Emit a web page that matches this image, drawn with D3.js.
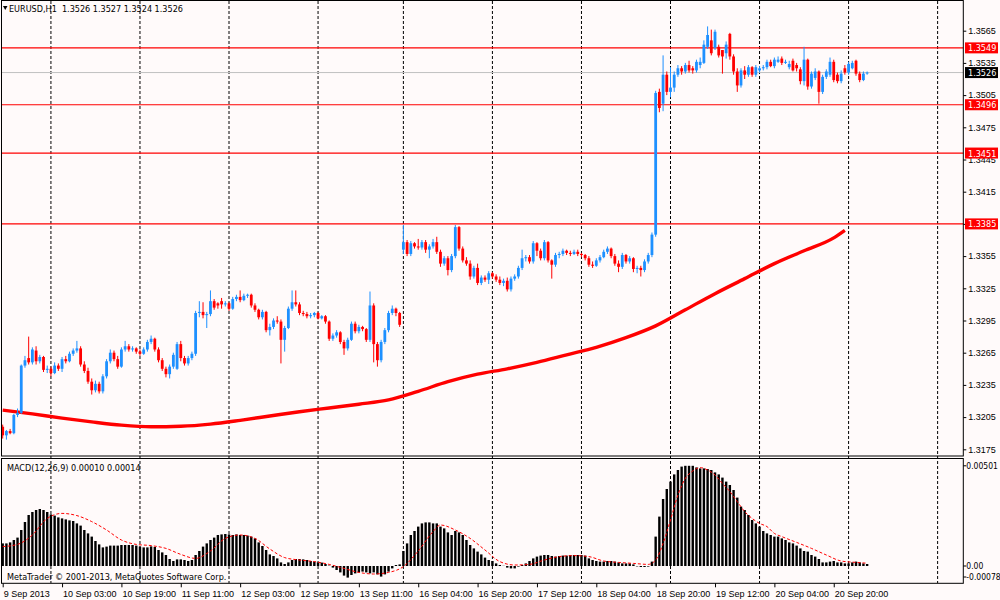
<!DOCTYPE html>
<html>
<head>
<meta charset="utf-8">
<title>EURUSD,H1</title>
<script src="https://cdnjs.cloudflare.com/ajax/libs/d3/7.8.5/d3.min.js"></script>
<style>
  body { margin:0; background:#fffafa; }
  svg { display:block; font-family:"DejaVu Sans Condensed","Liberation Sans",sans-serif; }
  .axis text { font-size:9px; fill:#000; }
  .axis line { stroke:#000; }
</style>
</head>
<body>
<script>
// prices are pips above 1.3000, one entry per H1 bar
var base = 1.3
var opens = [
 196,188,192,190,207,209,253,260,256,267, 257,261,249,250,246,253,250,259,257,264,
 267,269,254,248,238,230,236,229,243,257, 265,259,252,268,271,268,269,266,264,268,
 275,278,268,258,250,245,252,250,273,260, 255,260,264,302,303,300,301,313,311,313,
 310,311,306,315,317,314,318,319,309,305, 298,303,286,289,295,294,277,288,306,312,
 310,302,301,299,300,302,297,299,294,278, 281,284,275,269,277,292,285,289,287,277,
 309,273,258,275,286,302,306,302,
 361,368,357,367,364,363,368,361,364,368, 359,348,353,342,355,382,362,351,348,336,
 344,330,335,333,339,336,333,330,332,324, 334,336,344,353,354,350,367,360,353,368,
 351,347,356,357,360,358,357,359,357,356, 353,347,346,351,354,359,362,355,348,345,
 356,350,353,343,344,342,350,356,375,508, 497,524,508,512,524,530,527,533,530,528,
 533,535,550,556,549,550,547,544,562,541, 527,514,528,524,531,524,528,530,531,536,
 532,536,539,535,531,537,533,529,518,538, 513,521,527,508,522,524,536,524,518,530,
 526,530,537,525,519,526]
var highs = [
 198,193,194,208,213,254,262,280,270,271, 263,262,253,252,256,255,261,262,266,269,
 276,271,257,251,241,239,238,245,259,268, 267,262,270,276,273,271,270,268,270,277,
 281,279,270,260,252,254,265,275,276,262, 262,266,304,313,312,303,323,315,312,316,
 313,312,317,319,323,320,320,320,311,306, 305,304,292,297,299,296,290,308,323,323,
 312,304,303,302,303,303,300,300,295,283, 286,285,277,279,294,294,291,290,288,322,
 311,275,277,288,304,309,307,303,
 384,370,369,368,371,370,370,366,371,373, 361,355,355,357,384,383,364,354,351,346,
 348,337,337,341,340,338,336,334,335,336, 338,346,361,356,356,369,368,362,370,369,
 352,358,359,362,361,360,361,361,358,357, 355,350,353,356,361,364,363,357,351,358,
 357,355,354,346,346,352,358,377,509,511, 542,527,531,527,533,532,535,537,532,538,
 540,556,569,566,566,552,547,555,563,543, 530,530,532,533,532,533,532,533,538,538,
 540,541,541,538,537,539,535,531,550,539, 527,530,528,524,529,540,538,526,528,533,
 536,537,538,527,527,527]
var lows = [
 185,184,189,189,205,208,251,254,254,254, 255,247,246,243,245,248,247,255,256,262,
 265,252,246,236,226,228,227,227,241,255, 257,250,251,266,266,266,264,262,263,266,
 273,266,256,248,242,241,250,249,257,253, 253,258,262,298,297,288,299,305,306,306,
 308,304,305,313,312,313,316,307,303,296, 296,284,281,287,292,255,266,287,304,308,
 300,299,297,297,298,296,296,292,276,276, 279,273,263,267,276,283,283,285,275,275,
 256,252,256,273,284,300,299,289,
 357,355,355,362,361,361,358,353,362,357, 345,346,337,340,353,360,349,346,333,334,
 328,328,331,329,334,331,328,327,322,322, 332,334,342,350,348,348,355,351,351,349,
 334,345,353,355,356,355,356,355,354,351, 345,344,345,349,353,357,353,346,340,343,
 348,348,340,339,336,340,348,354,373,489, 490,505,503,508,522,524,525,526,525,526,
 530,534,548,542,547,540,525,539,538,524, 508,512,520,522,522,522,526,528,529,531,
 530,535,533,534,529,527,527,515,514,510, 511,519,497,506,520,522,517,516,516,524,
 524,529,523,517,518,524]
var closes = [
 188,192,190,207,209,253,258,256,268,257, 261,249,250,246,253,250,259,257,264,267,
 269,254,248,238,230,236,229,243,257,265, 259,252,268,271,268,269,266,264,268,275,
 278,268,258,250,245,252,263,273,260,255, 260,264,302,303,300,301,313,307,309,310,
 311,306,315,317,314,318,319,309,305,298, 303,286,289,295,294,277,288,306,312,310,
 302,301,299,300,302,297,299,294,278,281, 284,275,269,277,292,285,289,287,277,309,
 273,258,275,286,302,306,302,291,
 368,357,367,364,363,368,361,364,368,359, 348,353,342,355,382,362,351,348,336,344,
 330,335,333,339,336,333,330,332,324,334, 336,344,353,354,350,367,360,353,368,351,
 347,356,357,360,358,357,359,357,356,353, 347,346,351,354,359,362,355,348,345,356,
 350,353,343,344,342,350,356,375,507,493, 524,508,512,524,530,527,533,528,528,536,
 536,552,561,544,564,542,541,552,541,527, 514,528,524,531,524,531,530,531,536,532,
 538,538,535,536,534,528,530,518,538,513, 525,527,508,522,527,536,519,518,525,526,
 534,535,525,519,525,526]

// moving average (pips above 1.3000) read at these bars
var maBars = [0,8,16,24,32,40,48,56,64,72,80,88,96,104,112,120,128,136,144,152,160,168,176,184,192,200,208,216,224,227]
var maVals = [211.5,208,204,200.5,197.5,196,196.5,198.5,202,206,210,213.5,217,221,229,238,245,250,256,263,270,279,290,305,320,334,348,360,372,379]

// MACD main histogram, units of 0.0001
var macdMain = [
 11.3,11.3,11.8,13,14.2,18,22,25.5,27,28, 28.5,28,27,25.8,25.2,24.3,23.8,23.3,22.8,22.5,
 21.3,20.2,18,16.3,14.7,12.5,10.8,9.3,9.7,10.2, 10.2,10.2,10.5,10.5,10.5,10.5,10.2,9.7,9.3,9.3,
 9.8,9.5,8,6.8,5.5,3.5,2.5,3.3,3.3,3, 2.5,3,5.5,7.5,9.7,11.3,13,14.2,15.5,15.8,
 16,15.8,15.5,15.8,15.5,15.5,15.2,14.7,13.8,11.8, 10,8,5.8,5,3.8,1.8,1,1.8,3,3.5,
 3.5,3.3,3,2.5,2.2,1.8,1.7,1,0.2,-0.8, -2,-3.2,-4.8,-5.8,-4.5,-3.7,-3.2,-2.8,-3.2,-3.7,
 -3.2,-4.2,-5.3,-4.2,-2.8,-1.2,0.5,0.8,7.5,11.3, 15.5,17.5,19.7,21.3,21.8,21.8,21.3,21.3,19.7,18.8,
 16.8,15.5,17.5,16.8,15.5,13,10.5,8.8,7.2,5.8, 4.2,3,2.5,1.3,0.5,0.1,-0.8,-1.2,-1.2,-0.3,
 0.5,1.3,2.5,3.8,4.7,5.2,5.5,5.5,5,4.7, 5,5.2,5.2,5.5,5.5,5.5,5.5,5.2,3.8,3,
 2.5,2.2,2.2,2.5,2.5,2.2,1.8,1.3,1.3,1.3, 0.8,-0.2,-0.5,-0.5,-0.3,2.2,14.7,24.7,33.5,38.5,
 42.2,45.8,48,49.7,50.1,50.1,50.1,49.3,48.8,48.8, 48.5,48,46.8,45.8,44.2,42.2,40.5,38,34.2,29.7,
 28,25.5,23,21.3,19.7,17.5,16.3,15.5,14.7,14.7, 13.8,13,11.8,11.3,10.2,8.8,7.5,7.2,5.5,4.7,
 3.5,1.8,1.8,2.2,2.5,1.8,1.8,1.3,1.3,1.8, 2.2,1.8,1.3,1.0]
// MACD signal line, units of 0.0001, read at these bars
var sigBars = [0,4,8,12,16,20,24,28,32,36,40,44,48,52,56,60,64,68,72,76,80,84,88,92,96,100,104,108,112,116,
 118,122,126,130,134,138,142,146,150,154,158,162,166,170,174,176,178,180,182,184,186,188,190,192,194,196,198,200,202,204,
 206,208,210,214,218,222,226,230,233]
var sigVals = [9.7,10.8,15.5,23.8,26.3,25.2,22.2,18,13,10.8,10.2,8.8,5.8,3.8,7.5,13.8,15.5,13.8,8.5,4.2,
 3,2.2,0.8,-1.2,-3.2,-4,-3.2,-0.3,7.5,17.2,20.5,18,13.8,8,2.2,0.5,0.8,3,4.7,5.2,
 4.7,2.5,1.8,1.3,0.8,3,11.3,23,35.5,43.8,47.5,49.2,48,45.5,41.3,37.2,32.2,27.2,23.8,21.3,
 19.7,16.3,14.7,11.8,8.8,5.5,2.5,1.8,1.4]

var priceTicks = [1.3565,1.3535,1.3505,1.3475,1.3445,1.3415,1.3385,1.3355,1.3325,1.3295,1.3265,1.3235,1.3205,1.3175]
var levels = [1.3549,1.3496,1.3451,1.3385]
var timeLabels = ["9 Sep 2013","10 Sep 03:00","10 Sep 19:00","11 Sep 11:00","12 Sep 03:00","12 Sep 19:00","13 Sep 11:00",
 "16 Sep 04:00","16 Sep 20:00","17 Sep 12:00","18 Sep 04:00","18 Sep 20:00","19 Sep 12:00","20 Sep 04:00","20 Sep 20:00"]
var timeLabelBars = [0,16,32,48,64,80,96,112,128,144,160,176,192,208,224]
var dayBars = [13,37,61,85,108,132,156,180,204,228,252]
var macdScaleLabels = ["0.00501","0.00","-0.00078"]
var macdScaleVals = [50.1,0,-5.5]

var width = 1000, height = 600
var right = 963.3
var svg = d3.select("body").append("svg").attr("width", width).attr("height", height)
svg.append("rect").attr("width", width).attr("height", height).attr("fill", "#fffafa")

var x = d3.scaleLinear().domain([0, 252]).range([2.7, 2.7 + 252 * 3.71])
var y = d3.scaleLinear().domain([1.3175, 1.3565]).range([449.3, 30.7])
var ym = d3.scaleLinear().domain([0, 50.1]).range([566, 465.8])
function p(v) { return base + v / 10000 }

// day separators
svg.append("g").selectAll("line").data(dayBars).enter().append("line")
    .attr("x1", function(d) { return x(d) }).attr("x2", function(d) { return x(d) })
    .attr("y1", 1).attr("y2", 583)
    .attr("stroke", "#000").attr("stroke-dasharray", "3,2")

// horizontal levels
svg.append("g").selectAll("line").data(levels).enter().append("line")
    .attr("x1", 2).attr("x2", right)
    .attr("y1", function(d) { return y(d) }).attr("y2", function(d) { return y(d) })
    .attr("stroke", "#ff0000").attr("stroke-width", 1.2)
var last = closes.length - 1
svg.append("line").attr("x1", 2).attr("x2", right)
    .attr("y1", y(p(closes[last]))).attr("y2", y(p(closes[last])))
    .attr("stroke", "#c0c0c0")

// moving average
var maLine = d3.line().curve(d3.curveMonotoneX)
    .x(function(d, i) { return x(maBars[i]) })
    .y(function(d) { return y(p(d)) })
svg.append("path").attr("d", maLine(maVals))
    .attr("fill", "none").attr("stroke", "#ff0000").attr("stroke-width", 3.4)

// candles
var bars = d3.range(closes.length)
var cg = svg.append("g")
cg.selectAll("line").data(bars).enter().append("line")
    .attr("x1", function(i) { return x(i) }).attr("x2", function(i) { return x(i) })
    .attr("y1", function(i) { return y(p(highs[i])) })
    .attr("y2", function(i) { return y(p(lows[i])) })
    .attr("stroke", function(i) { return closes[i] >= opens[i] ? "#1e90ff" : "#ff0000" })
cg.selectAll("rect").data(bars).enter().append("rect")
    .attr("x", function(i) { return x(i) - 1.4 }).attr("width", 2.8)
    .attr("y", function(i) { return y(p(Math.max(opens[i], closes[i]))) })
    .attr("height", function(i) { return Math.max(1, Math.abs(y(p(opens[i])) - y(p(closes[i])))) })
    .attr("fill", function(i) { return closes[i] >= opens[i] ? "#1e90ff" : "#ff0000" })

// MACD histogram
svg.append("g").selectAll("rect").data(macdMain).enter().append("rect")
    .attr("x", function(d, i) { return x(i) - 1.2 }).attr("width", 2.4)
    .attr("y", function(d) { return Math.min(ym(d), ym(0)) })
    .attr("height", function(d) { return Math.abs(ym(d) - ym(0)) })
    .attr("fill", "#000")
var sigLine = d3.line().curve(d3.curveMonotoneX)
    .x(function(d, i) { return x(sigBars[i]) })
    .y(function(d) { return ym(d) })
svg.append("path").attr("d", sigLine(sigVals))
    .attr("fill", "none").attr("stroke", "#ff0000").attr("stroke-dasharray", "3,2")

// frames
svg.append("rect").attr("x", 1.5).attr("y", 0.5).attr("width", right - 1.5).attr("height", 455.5)
    .attr("fill", "none").attr("stroke", "#000")
svg.append("rect").attr("x", 1.5).attr("y", 458.5).attr("width", right - 1.5).attr("height", 124.8)
    .attr("fill", "none").attr("stroke", "#000")

// price axis
var ya = svg.append("g").attr("class", "axis").attr("transform", "translate(" + right + ",0)")
    .call(d3.axisRight(y).tickValues(priceTicks).tickFormat(d3.format(".4f")).tickSize(3).tickPadding(2))
ya.select(".domain").remove()

// level boxes
var boxes = levels.map(function(d) { return { v: d, bg: "#ff0000" } })
boxes.push({ v: p(closes[last]), bg: "#000" })
var bx = svg.append("g").selectAll("g").data(boxes).enter().append("g")
    .attr("transform", function(d) { return "translate(965," + y(d.v) + ")" })
bx.append("rect").attr("x", 0).attr("y", -5.5).attr("width", 33).attr("height", 11)
    .attr("fill", function(d) { return d.bg })
bx.append("text").attr("x", 3).attr("y", 0.5).attr("dominant-baseline", "central")
    .attr("fill", "#fff").style("font-size", "9px")
    .text(function(d) { return d.v.toFixed(4) })

// MACD scale labels
var ml = svg.append("g").attr("class", "axis")
ml.selectAll("line").data(macdScaleVals).enter().append("line")
    .attr("x1", right).attr("x2", right + 3)
    .attr("y1", function(d) { return Math.min(ym(d), 577) }).attr("y2", function(d) { return Math.min(ym(d), 577) })
ml.selectAll("text").data(macdScaleVals).enter().append("text")
    .attr("x", right + 3).attr("y", function(d) { return Math.min(ym(d), 577) })
    .attr("dominant-baseline", "central")
    .style("font-size", "8.5px")
    .text(function(d, i) { return macdScaleLabels[i] })

// time axis
var xa = svg.append("g").attr("class", "axis").attr("transform", "translate(0,583.3)")
    .call(d3.axisBottom(x).tickValues(timeLabelBars)
        .tickFormat(function(d, i) { return timeLabels[i] }).tickSize(4).tickPadding(3))
xa.select(".domain").remove()
xa.selectAll("text").attr("text-anchor", "start").attr("dx", "0.5")

// captions
svg.append("path").attr("d", "M3,6L7.5,6L5.25,10Z").attr("fill", "#000")
svg.append("text").attr("x", 9).attr("y", 12).style("font-size", "9px").style("white-space", "pre")
    .text("EURUSD,H1  " + [opens[last], highs[last], lows[last], closes[last]].map(function(v) { return p(v).toFixed(4) }).join(" "))
svg.append("text").attr("x", 7).attr("y", 471).style("font-size", "9px")
    .text("MACD(12,26,9) " + (macdMain[last] / 10000).toFixed(5) + " " + (sigVals[sigVals.length - 1] / 10000).toFixed(5))
svg.append("text").attr("x", 7).attr("y", 580).style("font-size", "9px")
    .text("MetaTrader \u00a9 2001-2013, MetaQuotes Software Corp.")
</script>
</body>
</html>
